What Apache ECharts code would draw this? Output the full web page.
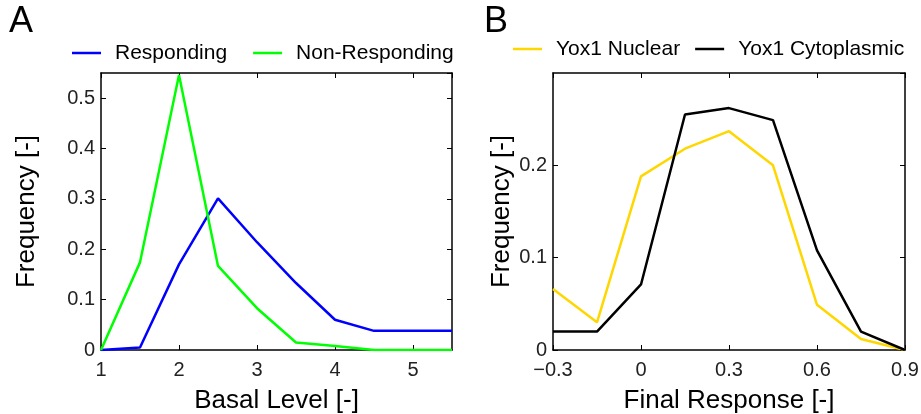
<!DOCTYPE html>
<html>
<head>
<meta charset="utf-8">
<title>Basal level / final response</title>
<script src="https://cdn.jsdelivr.net/npm/echarts@6/dist/echarts.min.js"></script>
<style>
  html, body { margin: 0; padding: 0; background: #fff; }
  #chart { width: 921px; height: 414px; }
</style>
</head>
<body>
<div id="chart"></div>
<script>
// panel A
const basalLevels = [1, 1.5, 2, 2.5, 3, 3.5, 4, 4.5, 5, 5.5]
const responding = [0, 0.005, 0.17, 0.301, 0.214, 0.133, 0.06, 0.038, 0.038, 0.038]
const nonResponding = [0, 0.174, 0.546, 0.167, 0.083, 0.015, 0.008, 0, 0, 0]

// panel B
const finalResponse = [-0.3, -0.15, 0, 0.15, 0.3, 0.45, 0.6, 0.75, 0.9]
const yoxNuclear = [0.066, 0.03, 0.188, 0.218, 0.237, 0.2, 0.049, 0.012, 0]
const yoxCytoplasmic = [0.02, 0.02, 0.071, 0.255, 0.262, 0.249, 0.108, 0.02, 0]

const font = 'Helvetica, "Liberation Sans", Arial, sans-serif'
const zip = (xs, ys) => xs.map((x, i) => [x, ys[i]])
const minus = v => String(Math.round(v * 100) / 100).replace('-', '\u2212')

function frameAxes(grid, min, max, interval, isX, showMax) {
  const common = {
    type: 'value',
    gridIndex: grid,
    min: min,
    max: max,
    interval: interval,
    splitLine: { show: false },
    axisLine: { show: true, onZero: false, lineStyle: { color: '#000', width: 1.5 } },
    axisTick: { show: true, inside: true, length: 5, lineStyle: { color: '#000', width: 1 } }
  }
  const main = Object.assign({}, common, {
    position: isX ? 'bottom' : 'left',
    axisLabel: {
      fontFamily: font, fontSize: 20, color: '#222',
      margin: isX ? 10 : 6,
      showMaxLabel: showMax,
      formatter: minus
    }
  })
  const mirror = Object.assign({}, common, {
    position: isX ? 'top' : 'right',
    axisLabel: { show: false }
  })
  return [main, mirror]
}

const xA = frameAxes(0, 1, 5.5, 1, true, false)
const yA = frameAxes(0, 0, 0.55, 0.1, false, false)
const xB = frameAxes(1, -0.3, 0.9, 0.3, true, true)
const yB = frameAxes(1, 0, 0.3, 0.1, false, false)

const nameStyle = { fontFamily: font, fontSize: 26, color: '#000' }
function title(axis, text, gap) {
  axis.name = text
  axis.nameLocation = 'middle'
  axis.nameGap = gap
  axis.nameTextStyle = nameStyle
}
title(xA[0], 'Basal Level [-]', 38)
title(yA[0], 'Frequency [-]', 61)
title(xB[0], 'Final Response [-]', 38)
title(yB[0], 'Frequency [-]', 37)

function line(name, data, color, xi, yi) {
  return {
    name: name,
    type: 'line',
    data: data,
    xAxisIndex: xi,
    yAxisIndex: yi,
    symbol: 'none',
    color: color,
    lineStyle: { color: color, width: 2.5 },
    animation: false
  }
}

const legendBase = {
  icon: 'rect',
  padding: 0,
  itemWidth: 29,
  itemHeight: 2.5,
  textStyle: { fontFamily: font, fontSize: 21, color: '#000', padding: [0, 0, 0, 9], lineHeight: 24 }
}

const chart = echarts.init(document.getElementById('chart'))
chart.setOption({
  animation: false,
  backgroundColor: '#fff',
  grid: [
    { left: 101, top: 73, width: 351, height: 277, outerBoundsMode: 'none' },
    { left: 553, top: 73, width: 352, height: 277, outerBoundsMode: 'none' }
  ],
  xAxis: [xA[0], xA[1], xB[0], xB[1]],
  yAxis: [yA[0], yA[1], yB[0], yB[1]],
  legend: [
    Object.assign({}, legendBase, { data: ['Responding', 'Non-Responding'], left: 72, top: 41, itemGap: 26 }),
    Object.assign({}, legendBase, { data: ['Yox1 Nuclear', 'Yox1 Cytoplasmic'], left: 513, top: 37, itemGap: 15 })
  ],
  graphic: [
    { type: 'text', left: 9, top: 4, style: { text: 'A', fontFamily: font, fontSize: 36, fill: '#000' } },
    { type: 'text', left: 484, top: 4, style: { text: 'B', fontFamily: font, fontSize: 36, fill: '#000' } }
  ],
  series: [
    line('Responding', zip(basalLevels, responding), '#0000ff', 0, 0),
    line('Non-Responding', zip(basalLevels, nonResponding), '#00ff00', 0, 0),
    line('Yox1 Nuclear', zip(finalResponse, yoxNuclear), '#ffd700', 2, 2),
    line('Yox1 Cytoplasmic', zip(finalResponse, yoxCytoplasmic), '#000000', 2, 2)
  ]
})
</script>
</body>
</html>
